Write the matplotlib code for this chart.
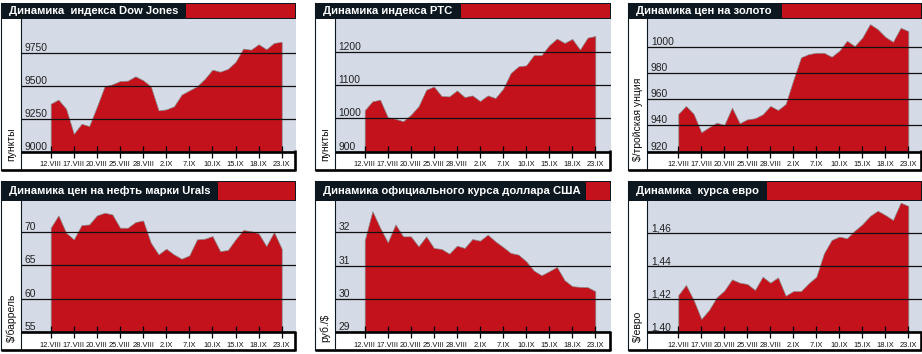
import matplotlib
matplotlib.use('Agg')
import matplotlib.pyplot as plt
from matplotlib.patches import Rectangle
from matplotlib.lines import Line2D
from matplotlib import font_manager

plt.rcParams['font.family'] = ['Liberation Sans', 'DejaVu Sans']

_names = {f.name for f in font_manager.fontManager.ttflist}
NARROW = 'Liberation Sans Narrow' if 'Liberation Sans Narrow' in _names else 'Liberation Sans'
HAS_NARROW = NARROW == 'Liberation Sans Narrow'

# ---------------- data ----------------
date_labels = ['12.VIII', '17.VIII', '20.VIII', '25.VIII', '28.VIII',
               '2.IX', '7.IX', '10.IX', '15.IX', '18.IX', '23.IX']

dow = [9362, 9393, 9324, 9134, 9210, 9193, 9340, 9494, 9509, 9534, 9537,
       9570, 9540, 9494, 9312, 9319, 9342, 9431, 9463, 9494, 9550, 9620,
       9605, 9626, 9679, 9780, 9772, 9813, 9775, 9823, 9831]
rts = [1025, 1052, 1057, 1004, 999, 992, 1011, 1037, 1087, 1097, 1068,
       1067, 1085, 1065, 1070, 1053, 1070, 1062, 1090, 1138, 1158, 1161,
       1192, 1192, 1222, 1242, 1229, 1241, 1209, 1245, 1250]
gold = [948.7, 954.8, 948.7, 934.7, 938.5, 942.0, 940.3, 953.5, 941.6,
        944.6, 945.4, 948.4, 954.8, 951.7, 956.3, 974.6, 991.9, 994.4,
        995.4, 995.4, 992.4, 997.0, 1004.6, 1000.5, 1007.0, 1017.3,
        1013.5, 1007.6, 1003.8, 1014.5, 1012.0]
urals = [70.65, 72.5, 69.9, 68.9, 71.05, 71.15, 72.5, 72.9, 72.65, 70.65,
         70.65, 71.5, 71.75, 68.4, 66.65, 67.5, 66.65, 66.0, 66.5, 68.9,
         69.0, 69.4, 67.15, 67.3, 68.9, 70.3, 70.15, 69.8, 67.9, 70.0, 67.5]
usd = [31.76, 32.64, 32.14, 31.70, 32.24, 31.88, 31.88, 31.58, 31.88,
       31.53, 31.50, 31.36, 31.60, 31.53, 31.80, 31.75, 31.93, 31.73,
       31.56, 31.38, 31.33, 31.13, 30.85, 30.71, 30.83, 30.96, 30.56,
       30.38, 30.36, 30.35, 30.23]
eur = [1.4224, 1.4285, 1.4194, 1.4079, 1.4133, 1.4210, 1.4251, 1.4319,
       1.4299, 1.4291, 1.4255, 1.4335, 1.4299, 1.4331, 1.4220, 1.4248,
       1.4248, 1.4295, 1.4335, 1.4477, 1.4558, 1.4578, 1.4568, 1.4614,
       1.4653, 1.4703, 1.4735, 1.4709, 1.4679, 1.4784, 1.4764]

titles = ['Динамика  индекса Dow Jones', 'Динамика индекса РТС',
          'Динамика цен на золото', 'Динамика цен на нефть марки Urals',
          'Динамика официального курса доллара США', 'Динамика  курса евро']
ylabels = ['пункты', 'пункты', '$/тройская унция', '$/баррель', 'руб./$', '$/евро']

dow_ticks = [9000, 9250, 9500, 9750]
rts_ticks = [900, 1000, 1100, 1200]
gold_ticks = [920, 940, 960, 980, 1000]
urals_ticks = [55, 60, 65, 70]
usd_ticks = [29, 30, 31, 32]
eur_ticks = [1.40, 1.42, 1.44, 1.46]
eur_tick_labels = ['1,40', '1,42', '1,44', '1,46']

series = [dow, rts, gold, urals, usd, eur]
ticks = [dow_ticks, rts_ticks, gold_ticks, urals_ticks, usd_ticks, eur_ticks]
tick_labels = [[str(v) for v in dow_ticks], [str(v) for v in rts_ticks],
               [str(v) for v in gold_ticks], [str(v) for v in urals_ticks],
               [str(v) for v in usd_ticks], eur_tick_labels]

# ---------------- layout (pixels, top origin) ----------------
W, H = 922, 354
RED = '#c4121c'
DARK = '#0c1720'
BG = '#d4dae6'

cols = [dict(L=1.0, PL=20.5, R=296.0, X0=50.7, X30=281.7),
        dict(L=315.0, PL=334.5, R=611.0, X0=364.7, X30=595.3),
        dict(L=628.0, PL=647.3, R=922.0, X0=678.3, X30=908.3)]
rows = [dict(T=2.5, TB=18.5, PB=151.5, SB=169.5),
        dict(T=181.0, TB=200.5, PB=332.0, SB=350.0)]
splits = [186, 461, 782, 218, 585.5, 767]
ylims = [(9000, 10008), (900, 1303), (920, 1021.6),
         (55, 74.74), (29, 32.96), (1.40, 1.4797)]

fig = plt.figure(figsize=(W / 100, H / 100), dpi=100)
bg = fig.add_axes([0, 0, 1, 1], zorder=0)
bg.set_xlim(0, W); bg.set_ylim(H, 0); bg.axis('off')
fg = fig.add_axes([0, 0, 1, 1], zorder=3)
fg.set_xlim(0, W); fg.set_ylim(H, 0); fg.axis('off')
fg.patch.set_alpha(0)

for k in range(6):
    c = cols[k % 3]
    r = rows[k // 3]
    L, PL, R = c['L'], c['PL'], c['R']
    T, TB, PB, SB = r['T'], r['TB'], r['PB'], r['SB']

    # title bar
    bg.add_patch(Rectangle((L - 0.5, T), R - L + 0.5, TB - T, color=DARK, lw=0))
    bg.add_patch(Rectangle((splits[k], T + 1), R - 1.2 - splits[k], TB - T - 2,
                           color=RED, lw=0))
    fg.text(L + 8, (T + TB) / 2 + 0.5, titles[k], color='white', fontsize=8.1,
            fontweight='bold', ha='left', va='center')

    # plot axes
    ax = fig.add_axes([PL / W, 1 - PB / H, (R - PL) / W, (PB - TB) / H], zorder=1)
    ax.set_facecolor(BG)
    for s in ax.spines.values():
        s.set_visible(False)
    vals = series[k]
    xs = list(range(len(vals)))
    step = (c['X30'] - c['X0']) / 30.0
    ax.set_xlim((PL - c['X0']) / step, 30 + (R - c['X30']) / step)
    y0, y1 = ylims[k]
    ax.set_ylim(y0, y1)
    ax.fill_between(xs, vals, y0, facecolor=RED, edgecolor='#8a8a8a',
                    linewidth=0.5, zorder=1)
    ax.set_yticks(ticks[k])
    ax.set_yticklabels(tick_labels[k], fontsize=7.4, color='#222222')
    ax.tick_params(axis='y', length=0, pad=-2.6)
    for t in ax.get_yticklabels():
        t.set_ha('left')
        t.set_va('bottom')
    ax.yaxis.grid(True, color='#111111', linewidth=0.9)
    ax.set_axisbelow(False)
    ax.set_xticks(list(range(0, 31, 3)))
    ax.set_xticklabels(date_labels, fontsize=6.4 if HAS_NARROW else 5.4,
                       color='#111111', family=NARROW)
    ax.tick_params(axis='x', direction='inout', length=8, width=0.9,
                   color='black', pad=3.0)

    # frame lines
    lw_thin = 0.8
    lw_thick = 1.9
    fg.add_line(Line2D([L, L], [T, SB], color=DARK, lw=lw_thin))
    fg.add_line(Line2D([PL, PL], [TB, SB], color=DARK, lw=lw_thin))
    fg.add_line(Line2D([PL, R - 1.3], [PB, PB], color='black', lw=lw_thick,
                       solid_capstyle='butt'))
    fg.add_line(Line2D([R - 1.3, R - 1.3], [PB - 1.2, SB + 1.2], color='black',
                       lw=lw_thick, solid_capstyle='butt'))
    fg.add_line(Line2D([L - 0.5, R - 1.3], [SB, SB], color='black', lw=lw_thick,
                       solid_capstyle='butt'))

    # y label
    fg.text((L + PL) / 2 + 0.5, SB - 8.5, ylabels[k], rotation=90, fontsize=7.5,
            color='#111111', ha='center', va='bottom')

fig.savefig('out.png', dpi=100)
